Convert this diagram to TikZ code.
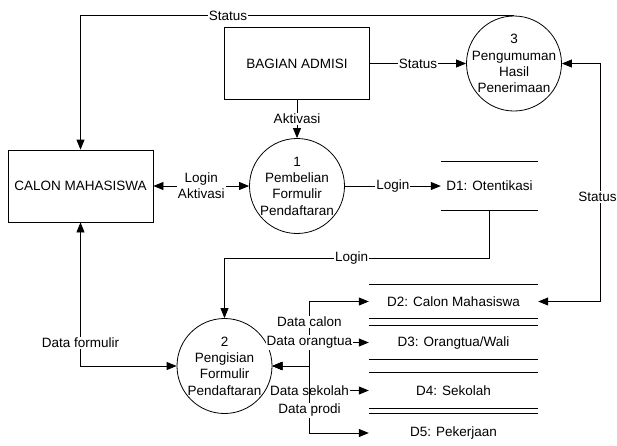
\documentclass[tikz,border=0pt]{standalone}
\usepackage{fontspec}
\setmainfont{Liberation Sans}
\usetikzlibrary{
  arrows.meta
}
\tikzset{
  >={Triangle[length=10pt,width=8pt]},
  entitybox/.style={draw,line width=0.8pt,minimum width=145pt,minimum height=72pt,inner sep=0pt},
  procnode/.style={draw,circle,line width=0.8pt,minimum size=95pt,inner sep=-4pt,align=center},
  storenode/.style={inner sep=0pt},
  storeline/.style={draw,line width=0.8pt},
  flowline/.style={draw,line width=0.8pt,->},
  flowlabel/.style={fill=white,inner sep=1pt,align=center},
}

\begin{document}
\begin{tikzpicture}[x=1pt,y=-1pt,font=\fontsize{13.5}{16.3}\selectfont]
\useasboundingbox (0,0) rectangle (617,445);
\node[entitybox] (cm) at (80.5,186) {CALON MAHASISWA};
\node[entitybox] (ba) at (297,63.5) {BAGIAN ADMISI};
\node[procnode] (p1) at (297,186) {1\\Pembelian\\Formulir\\Pendaftaran};
\node[procnode] (p2) at (224.5,366) {2\\Pengisian\\Formulir\\Pendaftaran};
\node[procnode] (p3) at (514,63.5) {3\\Pengumuman\\Hasil\\Penerimaan};
\node[storenode,minimum width=97pt,minimum height=48pt] (d1) at (489.5,186) {D1: Otentikasi};
\foreach \nm/\y/\h/\txt in {d2/301.5/33/{D2: Calon Mahasiswa}, d3/342.5/33/{D3: Orangtua/Wali},
  d4/390.5/35/{D4: Sekolah}, d5/433/38/{D5: Pekerjaan}}
{
  \node[storenode,minimum width=169pt,minimum height=\h pt] (\nm) at (453.5,\y) {\txt};
}
\foreach \nm in {d1,d2,d3,d4}
{
  \draw[storeline] (\nm.north west) -- (\nm.north east) (\nm.south west) -- (\nm.south east);
}
\draw[storeline] (d5.north west) -- (d5.north east);

\draw[flowline] (p3.north) -| node[flowlabel,pos=0.33] {Status} (cm.north);
\draw[flowline] (ba) -- node[flowlabel] {Status} (p3);
\draw[flowline] (ba) -- node[flowlabel] {Aktivasi} (p1);
\draw[flowline,<->] (cm) -- node[flowlabel] {Login\\Aktivasi} (p1);
\draw[flowline] (p1) -- node[flowlabel] {Login} (d1);
\draw[flowline] (d1.south) -- ++(0,48) -| node[flowlabel,pos=0.26] {Login} (p2.north);
\draw[flowline,<->] (p2.west) -| node[flowlabel,pos=0.58] {Data formulir} (cm.south);
\draw[flowline,<->] (p3.east) -- ++(38,0) |- node[flowlabel,pos=0.28,xshift=-2.5pt] {Status} (d2.east);
\foreach \nm/\lbl/\ps in {d2/Data calon/0.34, d3/Data orangtua/0.5, d4/Data sekolah/0.5, d5/Data prodi/0.33}
{
  \draw[flowline,<->] (p2.east) -- ++(37,0) |- node[flowlabel,pos=\ps] {\lbl} (\nm.west);
}
\end{tikzpicture}
\end{document}
